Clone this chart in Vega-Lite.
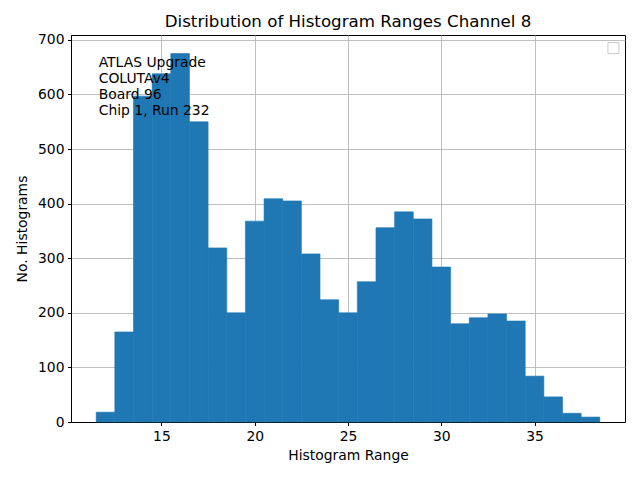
{
  "$schema": "https://vega.github.io/schema/vega-lite/v6.json",
  "autosize": "none",
  "width": 554,
  "height": 387,
  "padding": {"left": 71, "top": 35, "right": 15, "bottom": 58},
  "background": "white",
  "config": {
    "font": "DejaVu Sans",
    "view": {"stroke": "black", "strokeWidth": 1},
    "axis": {
      "labelFont": "DejaVu Sans",
      "titleFont": "DejaVu Sans",
      "labelFontSize": 13.9,
      "titleFontSize": 13.9,
      "titleFontWeight": "normal",
      "labelColor": "black",
      "titleColor": "black",
      "domainColor": "black",
      "tickColor": "black",
      "tickSize": 3.5,
      "labelPadding": 3.5,
      "gridColor": "#b0b0b0",
      "gridWidth": 0.8,
      "gridOpacity": 1,
      "zindex": 1
    }
  },
  "title": {
    "text": "Distribution of Histogram Ranges Channel 8",
    "font": "DejaVu Sans",
    "fontSize": 16.67,
    "fontWeight": "normal",
    "color": "black",
    "anchor": "middle",
    "offset": 2
  },
  "datasets": {
    "bins": [
      {"lo": 11.5, "hi": 12.5, "count": 18},
      {"lo": 12.5, "hi": 13.5, "count": 165},
      {"lo": 13.5, "hi": 14.5, "count": 597},
      {"lo": 14.5, "hi": 15.5, "count": 638},
      {"lo": 15.5, "hi": 16.5, "count": 675},
      {"lo": 16.5, "hi": 17.5, "count": 550},
      {"lo": 17.5, "hi": 18.5, "count": 319},
      {"lo": 18.5, "hi": 19.5, "count": 200},
      {"lo": 19.5, "hi": 20.5, "count": 368},
      {"lo": 20.5, "hi": 21.5, "count": 409},
      {"lo": 21.5, "hi": 22.5, "count": 405},
      {"lo": 22.5, "hi": 23.5, "count": 308},
      {"lo": 23.5, "hi": 24.5, "count": 224},
      {"lo": 24.5, "hi": 25.5, "count": 200},
      {"lo": 25.5, "hi": 26.5, "count": 257},
      {"lo": 26.5, "hi": 27.5, "count": 356},
      {"lo": 27.5, "hi": 28.5, "count": 385},
      {"lo": 28.5, "hi": 29.5, "count": 372},
      {"lo": 29.5, "hi": 30.5, "count": 284},
      {"lo": 30.5, "hi": 31.5, "count": 180},
      {"lo": 31.5, "hi": 32.5, "count": 191},
      {"lo": 32.5, "hi": 33.5, "count": 198},
      {"lo": 33.5, "hi": 34.5, "count": 185},
      {"lo": 34.5, "hi": 35.5, "count": 84},
      {"lo": 35.5, "hi": 36.5, "count": 46},
      {"lo": 36.5, "hi": 37.5, "count": 16},
      {"lo": 37.5, "hi": 38.5, "count": 9}
    ],
    "note": [
      {"x": 11.635, "y": 670, "label": ["ATLAS Upgrade", "COLUTAv4", " Board 96", "Chip 1, Run 232"]}
    ],
    "legendbox": [
      {"x": 39.23, "y": 685}
    ]
  },
  "layer": [
    {
      "data": {"name": "bins"},
      "mark": {"type": "bar", "color": "#1f77b4", "stroke": "#1f77b4", "strokeWidth": 0.6},
      "encoding": {
        "x": {
          "field": "lo",
          "type": "quantitative",
          "scale": {"domain": [10.15, 39.85], "nice": false, "zero": false, "padding": 0},
          "axis": {"values": [15, 20, 25, 30, 35], "title": "Histogram Range", "titlePadding": 6, "grid": true}
        },
        "x2": {"field": "hi"},
        "y": {
          "field": "count",
          "type": "quantitative",
          "scale": {"domain": [0, 709], "nice": false, "padding": 0},
          "axis": {"values": [0, 100, 200, 300, 400, 500, 600, 700], "title": "No. Histograms", "titlePadding": 8, "grid": true}
        },
        "y2": {"datum": 0}
      }
    },
    {
      "data": {"name": "note"},
      "mark": {"type": "text", "align": "left", "baseline": "top", "fontSize": 13.9, "lineHeight": 16, "font": "DejaVu Sans", "color": "black"},
      "encoding": {
        "x": {"field": "x", "type": "quantitative"},
        "y": {"field": "y", "type": "quantitative"},
        "text": {"field": "label"}
      }
    },
    {
      "data": {"name": "legendbox"},
      "mark": {"type": "point", "shape": "square", "size": 121, "filled": false, "fill": "white", "fillOpacity": 1, "stroke": "#cccccc", "strokeWidth": 1, "opacity": 1},
      "encoding": {
        "x": {"field": "x", "type": "quantitative"},
        "y": {"field": "y", "type": "quantitative"}
      }
    }
  ]
}
